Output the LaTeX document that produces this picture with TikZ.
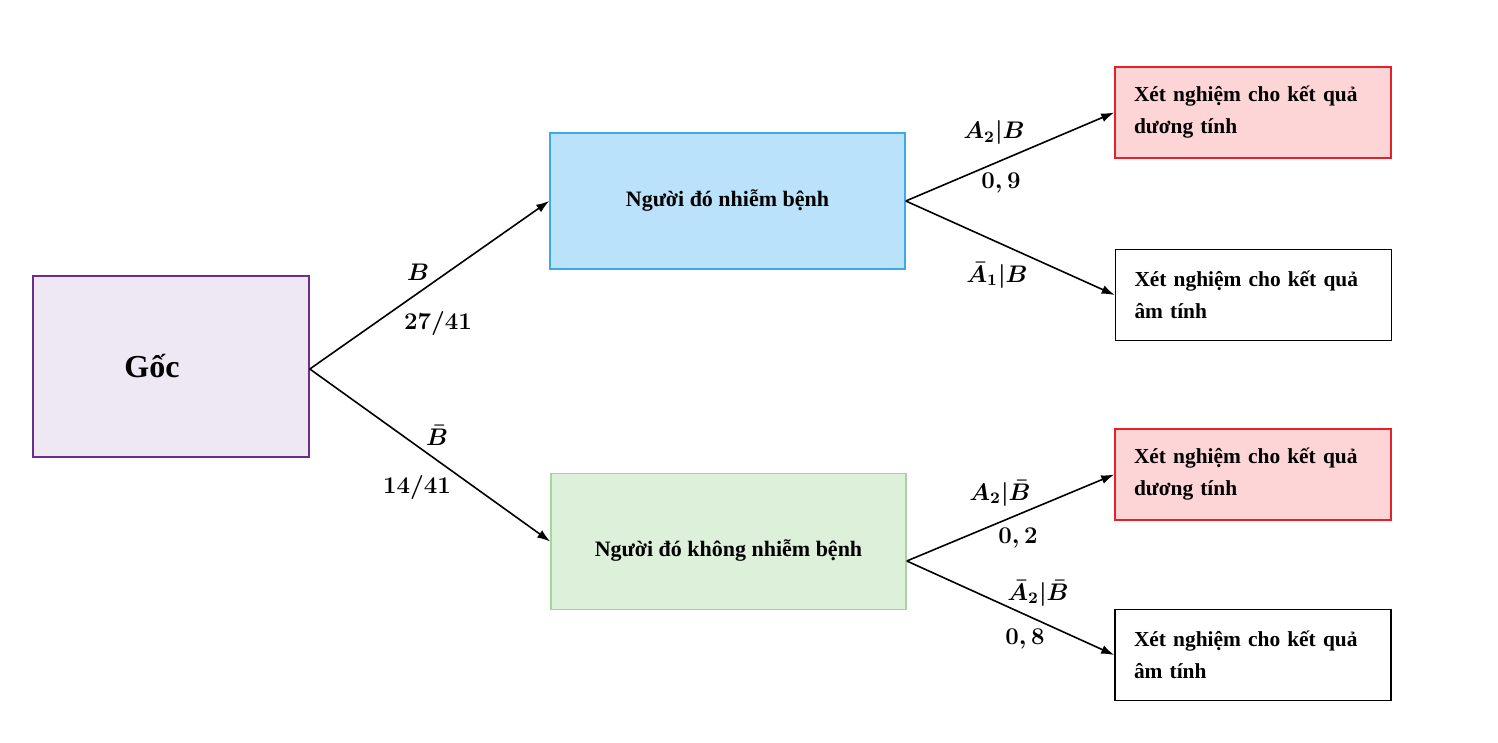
\documentclass[tikz,border=0pt]{standalone}
\usepackage[no-math]{fontspec}
\setmainfont{Liberation Serif}
\usetikzlibrary{arrows.meta,calc}
\definecolor{rootfill}{HTML}{EEE7F4}
\definecolor{rootdraw}{HTML}{6B2D8E}
\definecolor{bluefill}{HTML}{BAE3FB}
\definecolor{bluedraw}{HTML}{3CA9E8}
\definecolor{greenfill}{HTML}{DCF0DA}
\definecolor{greendraw}{HTML}{A2D69A}
\definecolor{redfill}{HTML}{FDD5D7}
\definecolor{reddraw}{HTML}{E5202B}
\tikzset{
  box/.style={draw, rectangle, line width=0.8pt, inner sep=0pt},
  midbox/.style={box, minimum width=177.5pt, minimum height=68pt, font=\bfseries\fontsize{11}{13}\selectfont},
  leaf/.style={box, minimum width=138pt, minimum height=45.5pt, inner xsep=9.5pt, text width=119pt, align=left, font=\bfseries\fontsize{10.7}{16}\selectfont},
  posbox/.style={leaf, fill=redfill, draw=reddraw},
  negbox/.style={leaf, fill=white, draw=black},
  lab/.style={inner sep=1pt, font=\boldmath\fontsize{12}{14}\selectfont},
  arr/.style={-{Latex[length=6.5pt,width=4.5pt]}, line width=0.8pt},
}
\begin{document}
\begin{tikzpicture}[x=0.5pt,y=-0.5pt]
\useasboundingbox (0,0) rectangle (1498,743);
% boxes
\node[box, fill=rootfill, draw=rootdraw, minimum width=138pt, minimum height=90.5pt,
      font=\bfseries\fontsize{16}{18}\selectfont] (root) at (171,366.5) {Gốc\kern19pt};
\node[midbox, fill=bluefill, draw=bluedraw] (sick) at (727.5,201) {Người đó nhiễm bệnh};
\node[midbox, fill=greenfill, draw=greendraw,
      label={[font=\bfseries\fontsize{11}{13}\selectfont, yshift=-4.5pt]center:Người đó không nhiễm bệnh}] (well) at (728.5,541.5) {};
\node[posbox] (p1) at (1253,112.5) {Xét nghiệm cho kết quả\\dương tính};
\node[negbox] (n1) at (1253.5,295) {Xét nghiệm cho kết quả\\âm tính};
\node[posbox] (p2) at (1253,474.5) {Xét nghiệm cho kết quả\\dương tính};
\node[negbox] (n2) at (1253,655) {Xét nghiệm cho kết quả\\âm tính};
\coordinate (rootout) at ($(root.east)+(0,2.5)$);
\coordinate (wellout) at ($(well.east)+(0,19.5)$);
% connectors
\draw[arr] (rootout) -- (sick.west);
\draw[arr] (rootout) -- (well.west);
\draw[arr] (sick.east) -- (p1.west);
\draw[arr] (sick.east) -- (n1.west);
\draw[arr] (wellout) -- (p2.west);
\draw[arr] (wellout) -- (n2.west);
% labels
\node[lab] (lB) at (418,272) {$B$};
\node[lab] (lBp) at (438,323) {$27/41$};
\node[lab] (lBb) at (437,435) {$\bar{B}$};
\node[lab] (lBbp) at (417,487) {$14/41$};
\node[lab] (l1) at (994,133) {$A_2|B$};
\node[lab] (l1p) at (1001,183) {$0,9$};
\node[lab] (l2) at (997,275) {$\bar{A}_1|B$};
\node[lab] (l3) at (1000,493) {$A_2|\bar{B}$};
\node[lab] (l3p) at (1018,538) {$0,2$};
\node[lab] (l4) at (1038,593) {$\bar{A}_2|\bar{B}$};
\node[lab] (l4p) at (1025,639) {$0,8$};
\end{tikzpicture}
\end{document}
